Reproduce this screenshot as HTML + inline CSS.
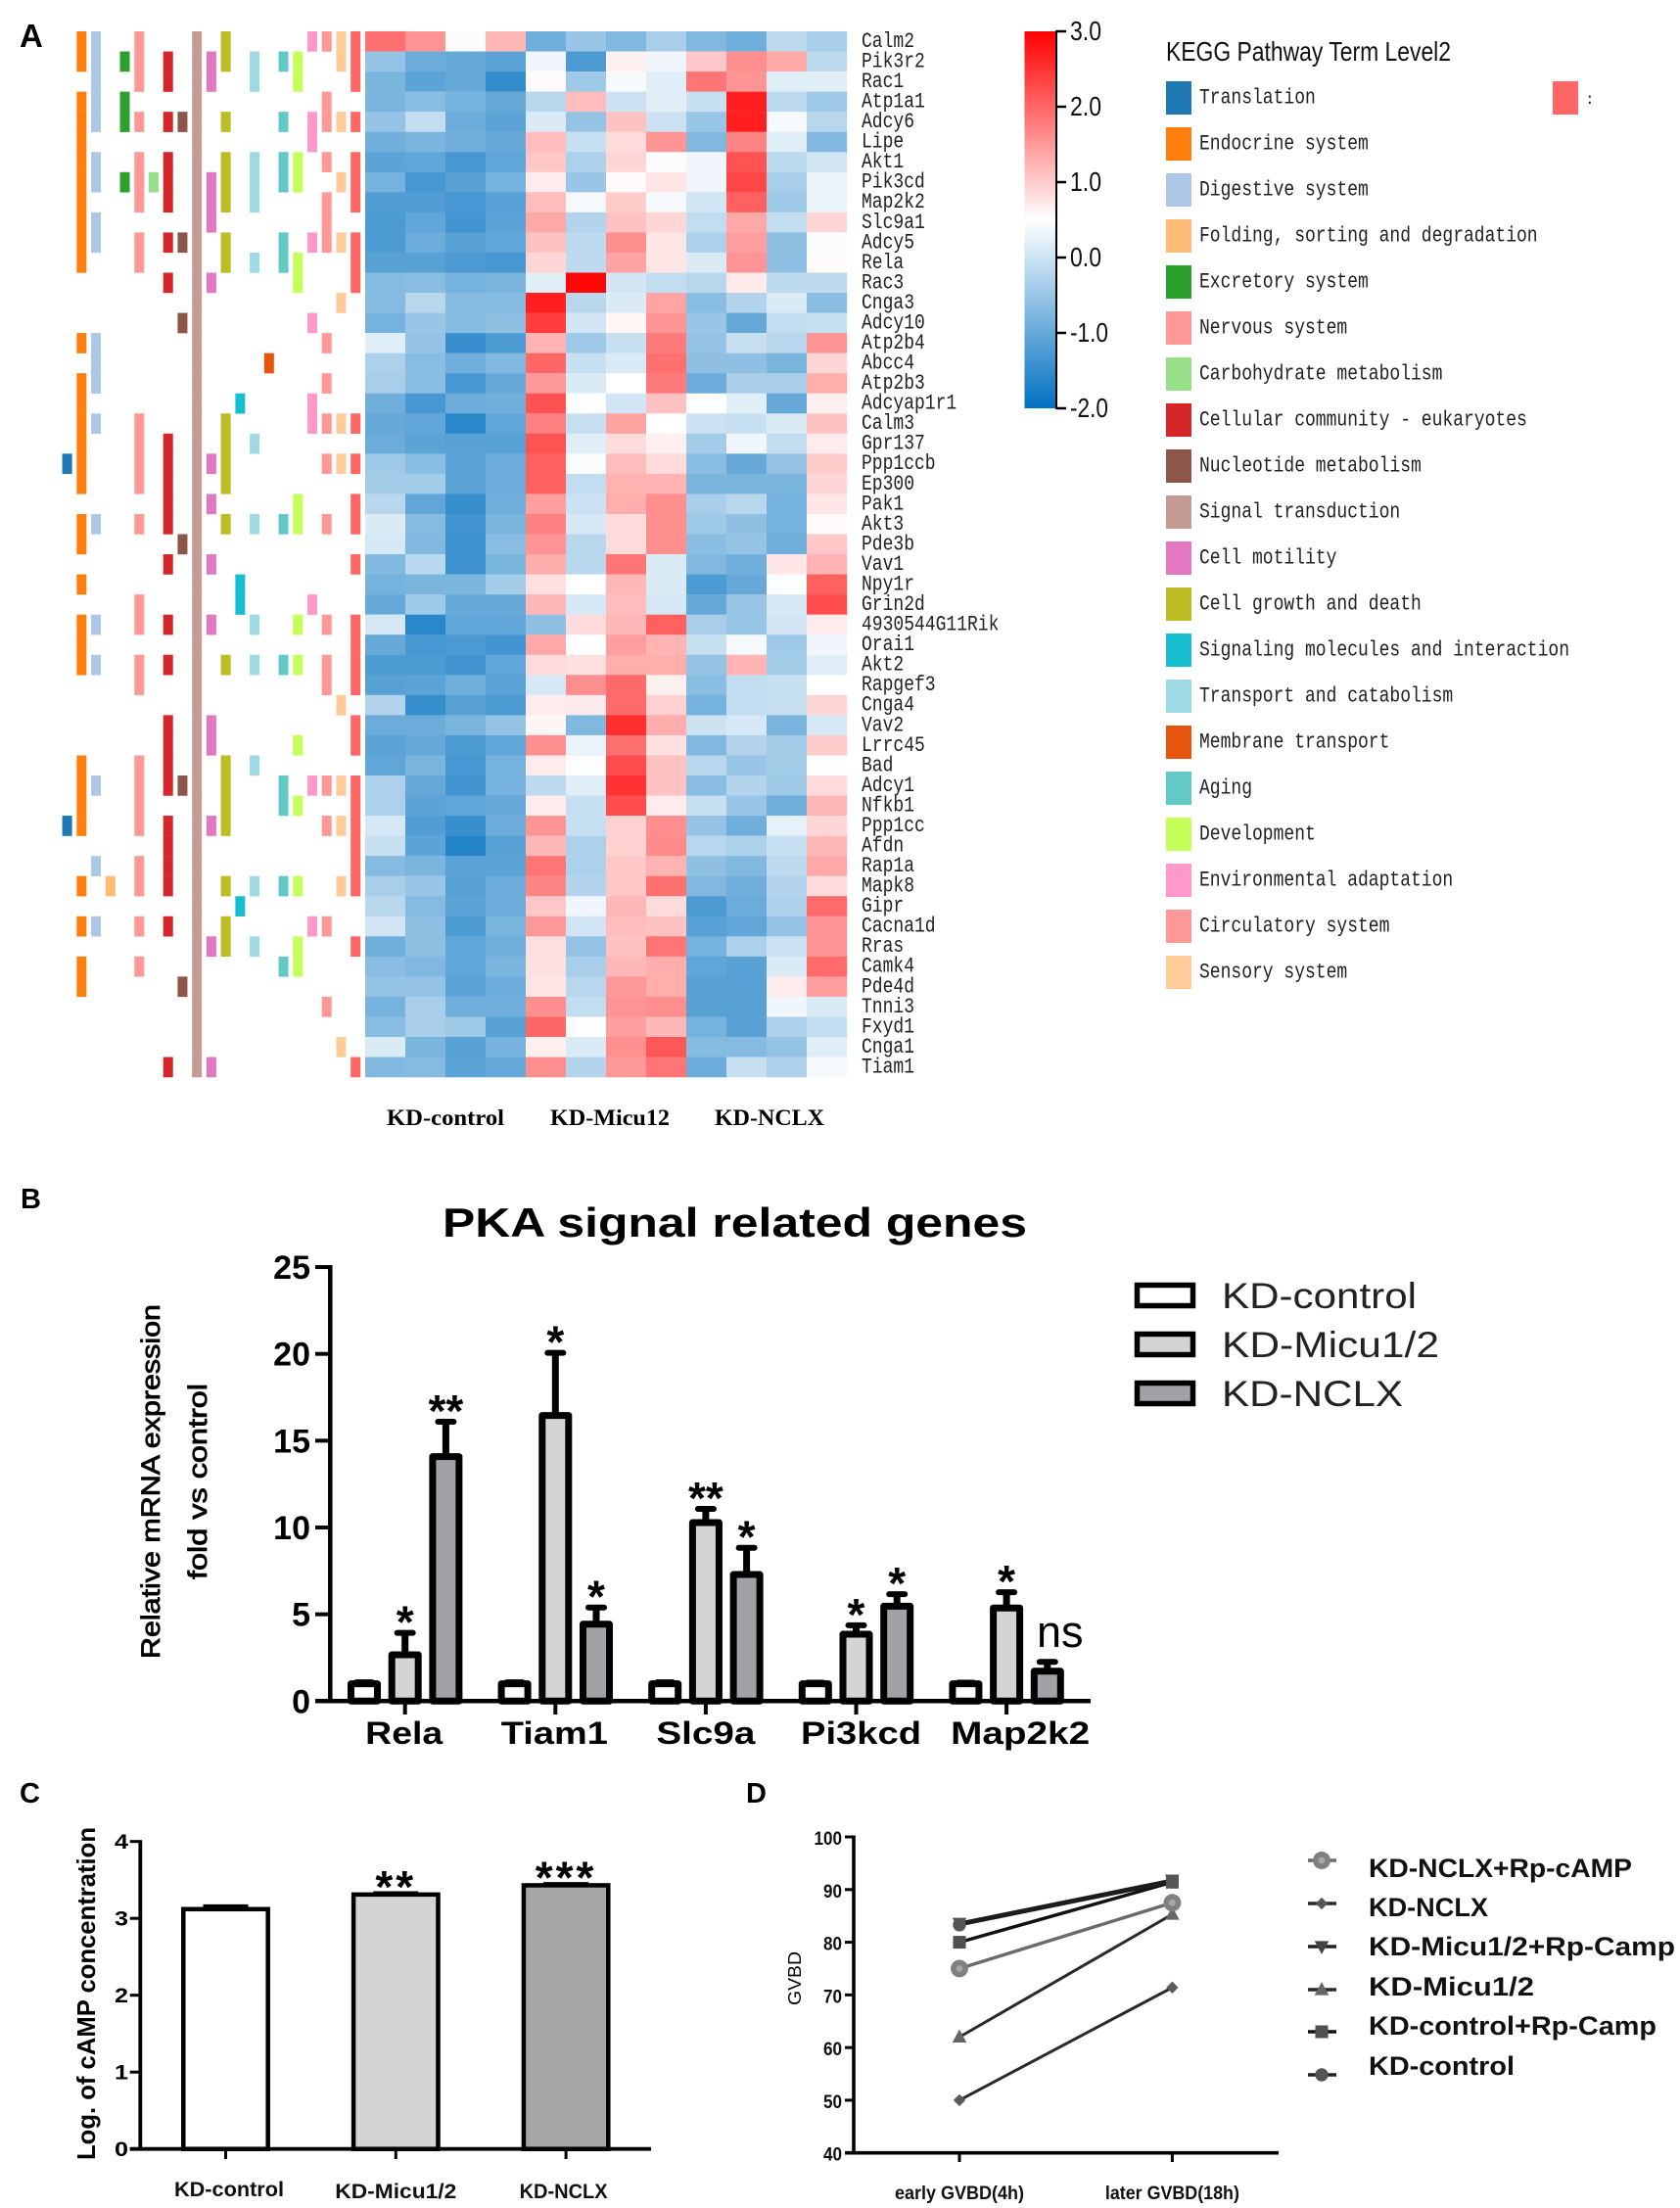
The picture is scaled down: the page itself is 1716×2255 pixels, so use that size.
<!DOCTYPE html>
<html lang="en">
<head>
<meta charset="utf-8">
<title>PKA signal figure</title>
<style>
html,body{margin:0;padding:0;background:#fff;}
svg{display:block;}
text{font-family:"Liberation Sans",sans-serif;}
.mono{font-family:"Liberation Mono",monospace;fill:#222;}
.serif{font-family:"Liberation Serif",serif;}
</style>
</head>
<body>
<svg id="figure" xmlns="http://www.w3.org/2000/svg" width="1716" height="2255" viewBox="0 0 1716 2255">
  <defs>
    <linearGradient id="cbar" x1="0" y1="0" x2="0" y2="1">
      <stop offset="0" stop-color="#ff0000"/>
      <stop offset="0.5" stop-color="#ffffff"/>
      <stop offset="1" stop-color="#0070c0"/>
    </linearGradient>
  </defs>
  <rect width="1716" height="2255" fill="#fff"/>
  <text x="20" y="48" font-size="33" font-weight="700">A</text>
  <text x="21" y="1234" font-size="29" font-weight="700">B</text>
  <text x="20" y="1841" font-size="29" font-weight="700">C</text>
  <text x="762" y="1841" font-size="29" font-weight="700">D</text>

  <g id="annot"></g>
  <g id="heat"></g>
  <g id="genes"></g>
  <g>
    <text class="serif" x="395" y="1149" font-size="23" font-weight="700" textLength="120" lengthAdjust="spacingAndGlyphs">KD-control</text>
    <text class="serif" x="562" y="1149" font-size="23" font-weight="700" textLength="122" lengthAdjust="spacingAndGlyphs">KD-Micu12</text>
    <text class="serif" x="730" y="1149" font-size="23" font-weight="700" textLength="112" lengthAdjust="spacingAndGlyphs">KD-NCLX</text>
  </g>
  <g id="colorbar">
    <rect x="1046.5" y="32" width="32.5" height="385" fill="url(#cbar)"/>
    <line x1="1079" y1="31" x2="1079" y2="418" stroke="#000" stroke-width="2"/>
  </g>
  <text x="1191" y="62" font-size="28" fill="#111" textLength="291" lengthAdjust="spacingAndGlyphs">KEGG Pathway Term Level2</text>
  <g id="pathwayLegend"></g>

  <text x="452" y="1263" font-size="42" font-weight="700" textLength="597" lengthAdjust="spacingAndGlyphs">PKA signal related genes</text>
  <text transform="translate(163,1694) rotate(-90)" font-size="27" stroke="#000" stroke-width="0.8" textLength="362" lengthAdjust="spacingAndGlyphs">Relative mRNA expression</text>
  <text transform="translate(211,1613) rotate(-90)" font-size="27" stroke="#000" stroke-width="0.8" textLength="200" lengthAdjust="spacingAndGlyphs">fold vs control</text>
  <g id="chartB"></g>
  <g id="legendB"></g>

  <text transform="translate(97,2206) rotate(-90)" font-size="26" font-weight="700" textLength="340" lengthAdjust="spacingAndGlyphs">Log. of cAMP concentration</text>
  <g id="chartC"></g>

  <text transform="translate(818,2048) rotate(-90)" font-size="18" textLength="55" lengthAdjust="spacingAndGlyphs">GVBD</text>
  <g id="chartD"></g>
  <g id="legendD"></g>
</svg>

<script>
/* ---------- Panel A data ---------- */
var geneNames = ["Calm2","Pik3r2","Rac1","Atp1a1","Adcy6","Lipe","Akt1","Pik3cd","Map2k2","Slc9a1","Adcy5","Rela","Rac3","Cnga3","Adcy10","Atp2b4","Abcc4","Atp2b3","Adcyap1r1","Calm3","Gpr137","Ppp1ccb","Ep300","Pak1","Akt3","Pde3b","Vav1","Npy1r","Grin2d","4930544G11Rik","Orai1","Akt2","Rapgef3","Cnga4","Vav2","Lrrc45","Bad","Adcy1","Nfkb1","Ppp1cc","Afdn","Rap1a","Mapk8","Gipr","Cacna1d","Rras","Camk4","Pde4d","Tnni3","Fxyd1","Cnga1","Tiam1"];
var heatValues = [
[1.9,1.55,0.45,1.2,-0.9,-0.5,-0.75,-0.35,-0.75,-0.9,-0.15,-0.35],
[-0.55,-0.95,-1.0,-1.1,0.35,-1.25,0.65,0.35,1.05,1.6,1.35,-0.15],
[-0.8,-1.1,-1.0,-1.5,0.55,-0.45,0.42,0.2,1.85,1.55,0.2,0.2],
[-0.8,-0.65,-0.85,-1.0,-0.2,1.15,0.0,0.2,-0.05,2.7,-0.15,-0.45],
[-0.55,-0.1,-0.95,-1.1,0.15,-0.55,1.1,0.0,-0.5,2.7,0.4,-0.2],
[-0.9,-0.8,-0.9,-1.0,1.15,-0.05,0.85,1.55,-0.75,1.7,0.2,-0.75],
[-1.1,-1.05,-1.3,-1.05,1.05,-0.3,0.9,0.45,0.35,2.2,-0.15,0.05],
[-0.85,-1.3,-1.15,-0.85,0.7,-0.5,0.55,0.75,0.35,2.3,-0.35,0.3],
[-1.2,-1.2,-1.3,-1.15,1.15,0.4,1.0,0.4,0.05,2.05,-0.45,0.3],
[-1.25,-1.05,-1.35,-1.1,1.35,-0.25,1.1,0.9,-0.1,1.35,-0.1,0.9],
[-1.25,-0.95,-1.15,-1.05,1.1,-0.15,1.6,0.75,-0.3,1.45,-0.6,0.45],
[-1.15,-1.15,-1.25,-1.3,0.9,-0.15,1.4,0.75,0.15,1.55,-0.6,0.55],
[-0.7,-0.65,-0.85,-0.8,0.2,2.95,0.05,-0.1,-0.2,0.7,-0.15,-0.15],
[-0.7,-0.2,-0.7,-0.7,2.7,-0.2,0.15,1.4,-0.65,-0.25,0.15,-0.65],
[-0.85,-0.5,-0.7,-0.6,2.4,0.05,0.6,1.55,-0.5,-1.0,-0.1,-0.05],
[0.2,-0.55,-1.45,-1.25,1.25,-0.45,-0.05,1.8,-0.55,-0.05,-0.2,1.55],
[-0.3,-0.65,-0.9,-0.75,2.0,-0.05,0.15,1.9,-0.6,-0.6,-0.8,0.9],
[-0.35,-0.65,-1.3,-1.0,1.5,0.15,0.5,1.8,-0.95,-0.35,-0.35,1.3],
[-0.9,-1.3,-0.95,-0.9,2.2,0.5,0.05,1.1,0.47,0.2,-1.0,0.65],
[-1.0,-1.05,-1.6,-1.05,1.75,-0.05,1.4,0.5,0.0,-0.05,0.15,1.1],
[-0.95,-1.1,-1.15,-1.15,2.2,0.2,0.85,0.65,-0.4,0.35,-0.1,0.7],
[-0.45,-0.65,-1.1,-0.95,2.05,0.45,1.15,0.85,-0.65,-1.0,-0.55,1.0],
[-0.4,-0.4,-1.1,-0.95,2.05,-0.1,1.25,1.25,-0.8,-0.8,-0.8,0.9],
[-0.2,-1.05,-1.45,-0.9,1.45,0.0,1.3,1.6,-0.35,-0.2,-0.85,0.75],
[0.15,-0.7,-1.35,-0.8,1.75,0.1,0.85,1.6,-0.45,-0.6,-0.85,0.55],
[0.1,-0.75,-1.4,-0.65,1.55,-0.2,0.85,1.6,-0.65,-0.55,-0.9,1.05],
[-0.75,-0.2,-1.4,-0.8,1.3,-0.2,1.85,0.15,-0.75,-0.9,0.75,1.25],
[-0.85,-0.8,-0.8,-0.4,0.8,0.5,1.2,0.15,-1.25,-1.0,0.47,2.05],
[-1.0,-0.45,-1.0,-1.0,1.2,0.1,1.15,0.1,-1.0,-0.5,0.1,2.25],
[0.1,-1.6,-1.05,-1.05,-0.6,0.85,1.2,2.05,-0.35,-0.5,0.05,0.7],
[-1.0,-1.3,-1.25,-1.35,1.35,0.5,1.45,1.25,-0.05,0.4,-0.45,0.35],
[-1.25,-1.25,-1.35,-1.05,0.85,0.8,1.3,1.3,-0.55,1.25,-0.4,0.2],
[-1.15,-1.1,-0.9,-1.1,0.1,1.6,1.95,0.65,-0.65,-0.1,-0.05,0.5],
[-0.25,-1.45,-1.15,-1.25,0.7,0.7,1.95,0.95,-0.85,-0.1,-0.05,0.9],
[-0.95,-0.95,-0.8,-0.55,0.6,-0.75,2.55,1.3,0.0,0.1,-0.8,0.1],
[-1.1,-1.0,-1.25,-1.05,1.6,0.3,1.9,0.8,-0.75,-0.25,-0.4,1.0],
[-1.05,-0.8,-1.3,-0.85,0.7,0.47,2.25,1.1,-0.2,-0.5,-0.4,0.5],
[-0.3,-1.0,-1.35,-0.85,-0.15,0.2,2.5,1.1,-0.65,-0.25,-0.45,0.85],
[-0.3,-1.1,-1.05,-1.0,0.7,-0.05,2.25,0.7,-0.05,-0.5,-0.9,1.2],
[0.1,-1.2,-1.45,-0.95,1.55,-0.05,0.95,1.6,-0.55,-0.9,0.25,0.9],
[-0.05,-1.1,-1.65,-1.15,1.2,-0.3,0.95,1.65,-0.2,-0.3,-0.05,1.2],
[-0.7,-0.8,-1.1,-1.1,1.85,-0.3,1.05,1.25,-0.6,-0.75,-0.15,1.35],
[-0.35,-0.5,-1.15,-0.95,1.7,-0.25,1.05,1.9,-0.75,-0.9,-0.25,0.85],
[-0.2,-0.7,-1.1,-0.95,1.05,0.35,1.2,0.85,-1.25,-0.95,-0.3,1.95],
[0.05,-0.6,-1.25,-0.8,1.5,0.05,1.15,1.1,-1.15,-1.05,-0.55,1.55],
[-0.9,-0.6,-1.05,-0.9,0.8,-0.55,1.1,1.85,-0.85,-0.3,0.0,1.55],
[-0.65,-0.75,-1.05,-0.8,0.8,-0.35,1.2,1.3,-1.05,-1.15,0.15,1.95],
[-0.55,-0.55,-1.1,-0.95,0.75,-0.2,1.5,1.3,-1.15,-1.15,0.7,1.45],
[-0.85,-0.35,-0.9,-0.9,1.6,-0.1,1.55,1.6,-1.15,-1.15,0.35,0.15],
[-0.65,-0.35,-0.45,-1.15,2.0,0.47,1.45,1.2,-0.85,-1.15,-0.3,-0.1],
[0.15,-0.8,-1.15,-0.85,0.65,0.15,1.6,2.15,-0.7,-0.7,-0.55,0.2],
[-0.75,-0.7,-1.1,-1.0,1.6,-0.25,1.5,1.85,-0.95,-0.05,-0.3,0.4]
];
var colorbarTicks = [3, 2, 1, 0, -1, -2];
var colorbarLabels = ["3.0", "2.0", "1.0", "0.0", "-1.0", "-2.0"];
var pathwayNames = ["Translation","Endocrine system","Digestive system","Folding, sorting and degradation","Excretory system","Nervous system","Carbohydrate metabolism","Cellular community - eukaryotes","Nucleotide metabolism","Signal transduction","Cell motility","Cell growth and death","Signaling molecules and interaction","Transport and catabolism","Membrane transport","Aging","Development","Environmental adaptation","Circulatory system","Sensory system"];
var pathwayColors = ["#1f77b4","#ff7f0e","#aec7e8","#ffbb78","#2ca02c","#ff9896","#98df8a","#d62728","#8c564b","#c49c94","#e377c2","#bcbd22","#17becf","#9edae5","#e6550d","#63c9c4","#c7ff5a","#ff99cc","#ff9896","#ffcc99","#ff6666"];
var pathwayRows = [
[21,39],
[0,1,3,4,5,6,7,8,9,10,11,15,17,18,19,20,21,22,24,25,27,29,30,31,36,37,38,39,42,44,46,47],
[0,1,2,3,4,6,7,9,10,15,16,17,19,24,29,31,37,41,44],
[42],
[1,3,4,7],
[0,1,2,4,6,7,8,10,11,19,20,21,22,24,28,29,31,32,36,37,38,39,41,42,44,46],
[7],
[1,2,4,6,7,8,10,12,20,21,22,23,24,26,29,31,34,35,36,37,39,40,41,42,44,51],
[4,10,14,25,37,47],
[0,1,2,3,4,5,6,7,8,9,10,11,12,13,14,15,16,17,18,19,20,21,22,23,24,25,26,27,28,29,30,31,32,33,34,35,36,37,38,39,40,41,42,43,44,45,46,47,48,49,50,51],
[1,2,7,8,9,12,21,23,26,29,34,35,39,45,51],
[0,1,4,6,7,8,10,11,19,20,21,22,24,31,36,37,38,39,42,44,45],
[18,27,28,43],
[1,2,6,7,8,11,20,24,29,31,36,42,45],
[16],
[1,4,6,7,10,11,24,31,37,38,42,46],
[1,2,6,7,11,12,23,24,29,31,35,38,42,45,46],
[0,4,5,10,14,18,19,28,37,44],
[0,3,4,6,8,9,10,15,17,19,21,24,29,31,32,37,39,44,48],
[0,1,4,7,10,13,19,21,33,37,39,42,50],
[0,1,2,4,6,7,8,10,11,12,19,21,23,24,26,29,30,31,32,34,35,37,38,39,40,41,42,45,51]
];

/* ---------- Panel B data ---------- */
var barGenes = ["Rela","Tiam1","Slc9a","Pi3kcd","Map2k2"];
var barTicks = [0,5,10,15,20,25];
var barControl = [1,1,1,1,1];
var barMicu = [2.67,16.45,10.28,3.85,5.36];
var barNclx = [14.08,4.43,7.29,5.47,1.72];
var errControl = [1.08,1.08,1.08,1.06,1.06];
var errMicu = [3.93,20.06,11.07,4.37,6.27];
var errNclx = [16.09,5.39,8.83,6.16,2.26];
var sigMicu = ["*","*","**","*","*"];
var sigNclx = ["**","*","*","*","ns"];
var barSeriesNames = ["KD-control","KD-Micu1/2","KD-NCLX"];

/* ---------- Panel C data ---------- */
var campGroups = ["KD-control","KD-Micu1/2","KD-NCLX"];
var campTicks = [0,1,2,3,4];
var campValues = [3.12,3.31,3.43];
var campErrors = [3.16,3.33,3.45];
var campSig = ["","**","***"];

/* ---------- Panel D data ---------- */
var gvbdTimes = ["early GVBD(4h)","later GVBD(18h)"];
var gvbdTicks = [40,50,60,70,80,90,100];
var gvbdNclxRp = [75,87.5];
var gvbdNclx = [50,71.4];
var gvbdMicuRp = [83.6,91.8];
var gvbdMicu = [62,85.3];
var gvbdControlRp = [80,91.4];
var gvbdControl = [83.3,91.5];

/* ---------- helpers ---------- */
var NS = "http://www.w3.org/2000/svg";
function mk(parent, tag, attrs) {
  var el = document.createElementNS(NS, tag);
  for (var k in attrs) { el.setAttribute(k, attrs[k]); }
  parent.appendChild(el);
  return el;
}
function mkText(parent, str, attrs) {
  var el = mk(parent, "text", attrs);
  el.textContent = str;
  return el;
}
function mix(a, b, t) { return Math.round(a + (b - a) * t); }
function heatColor(v) {
  var c = Math.max(-2, Math.min(3, v));
  if (c >= 0.5) {
    var t = (c - 0.5) / 2.5;
    return "rgb(255," + mix(255, 0, t) + "," + mix(255, 0, t) + ")";
  }
  var u = (0.5 - c) / 2.5;
  return "rgb(" + mix(255, 0, u) + "," + mix(255, 112, u) + "," + mix(255, 192, u) + ")";
}
function slug(s) { return String(s).toLowerCase().replace(/[^a-z0-9]+/g, "-").replace(/^-|-$/g, ""); }

/* ---------- Panel A ---------- */
var heatX = function (c) { return 373 + 41 * c; };
var heatY = function (r) { return 32 + 20.54 * r; };
var annotX = function (c) { return 63.6 + 14.73 * c; };
var cbarY = function (v) { return 263 - 77 * v; };
var MONO_ADVANCE = 10.8;

var heatG = document.getElementById("heat");
heatValues.forEach(function (row, r) {
  row.forEach(function (v, c) {
    var cell = mk(heatG, "rect", { x: heatX(c), y: heatY(r), width: 41.2, height: 20.74, fill: heatColor(v) });
    
    
  });
});

var genesG = document.getElementById("genes");
geneNames.forEach(function (g, r) {
  var t = mkText(genesG, g, { "class": "mono", x: 880, y: heatY(r) + 15.9, "font-size": 22, textLength: g.length * MONO_ADVANCE, lengthAdjust: "spacingAndGlyphs" });
  
  
});

var annotG = document.getElementById("annot");
pathwayRows.forEach(function (rows, c) {
  rows.forEach(function (r) {
    var a = mk(annotG, "rect", { x: annotX(c), y: heatY(r), width: 10, height: 20.74, fill: pathwayColors[c] });
    
    
  });
});

var cbarG = document.getElementById("colorbar");
colorbarTicks.forEach(function (v, i) {
  var tk = mk(cbarG, "line", { x1: 1079, x2: 1089, y1: cbarY(v), y2: cbarY(v), stroke: "#000", "stroke-width": 2.5 });
  
  
  var lab = colorbarLabels[i];
  var tl = mkText(cbarG, lab, { x: 1093, y: cbarY(v) + 9, "font-size": 28, fill: "#111", textLength: lab.length === 3 ? 32 : 39, lengthAdjust: "spacingAndGlyphs" });
  
  
});

var plegG = document.getElementById("pathwayLegend");
pathwayNames.forEach(function (n, i) {
  var top = 83.5 + 47 * i;
  var sw = mk(plegG, "rect", { x: 1191, y: top - 0.5, width: 26, height: 34, fill: pathwayColors[i] });
  
  
  var t = mkText(plegG, n, { "class": "mono", x: 1225, y: top + 21.8, "font-size": 22, textLength: n.length * MONO_ADVANCE, lengthAdjust: "spacingAndGlyphs" });
  
  
});
var extraSw = mk(plegG, "rect", { x: 1577, y: 83, width: 26, height: 34, fill: pathwayColors[20] });
extraSw.setAttribute("x", "1586");


var extraT = mkText(plegG, ":", { "class": "mono", x: 1619, y: 106, "font-size": 16 });



/* ---------- Panel B ---------- */
var bY = function (v) { return 1737.3 - 17.73 * v; };
var bX = function (g) { return 413.7 + 153.6 * g; };
var BAR_OFFSET = 41.7;
var bG = document.getElementById("chartB");
var barFills = ["#ffffff", "#d4d4d4", "#a2a2a6"];
var barXLabelWidths = [79, 109, 101, 123, 142];
var barXLabelNudge = [-1, -1, 0, 5, 14];

function drawBar(group, value, err, sig, series, offset) {
  var cx = bX(group) + offset;
  var stem = mk(bG, "line", { x1: cx, x2: cx, y1: bY(value), y2: bY(err), stroke: "#000", "stroke-width": 7 });
  
  
  var cap = mk(bG, "line", { x1: cx - 8, x2: cx + 8, y1: bY(err), y2: bY(err), stroke: "#000", "stroke-width": 6, "stroke-linecap": "round" });
  
  
  var bar = mk(bG, "rect", { x: cx - 13.5, y: bY(value), width: 27, height: bY(0) - bY(value), fill: barFills[series], stroke: "#000", "stroke-width": 7, "stroke-linejoin": "round" });
  
  
  if (sig === "ns") {
    var ns = mkText(bG, sig, { x: cx + 13, y: bY(err) - 15, "font-size": 45, "text-anchor": "middle" });
    
    
  } else if (sig) {
    var st = mkText(bG, sig, { x: cx, y: bY(err) + 5, "font-size": 46, "font-weight": 700, "text-anchor": "middle" });
    
    
  }
}
barGenes.forEach(function (g, i) {
  drawBar(i, barControl[i], errControl[i], "", 0, -BAR_OFFSET);
  drawBar(i, barMicu[i], errMicu[i], sigMicu[i], 1, 0);
  drawBar(i, barNclx[i], errNclx[i], sigNclx[i], 2, BAR_OFFSET);
  var tk = mk(bG, "line", { x1: bX(i), x2: bX(i), y1: bY(0), y2: 1751, stroke: "#000", "stroke-width": 4 });
  
  
  var t = mkText(bG, g, { x: bX(i) + barXLabelNudge[i], y: 1781, "font-size": 32, "font-weight": 700, "text-anchor": "middle", textLength: barXLabelWidths[i], lengthAdjust: "spacingAndGlyphs" });
  
  
});
var bAxisY = mk(bG, "line", { x1: 337.3, x2: 337.3, y1: bY(25) - 2, y2: bY(0), stroke: "#000", "stroke-width": 4.5 });


var bAxisX = mk(bG, "line", { x1: 322, x2: 1114, y1: bY(0), y2: bY(0), stroke: "#000", "stroke-width": 4.5 });


barTicks.forEach(function (v) {
  var tk = mk(bG, "line", { x1: 322, x2: 337, y1: bY(v), y2: bY(v), stroke: "#000", "stroke-width": 4 });
  
  
  var t = mkText(bG, String(v), { x: 317, y: bY(v) + 12, "font-size": 34, "font-weight": 700, "text-anchor": "end" });
  
  
});

var legB = document.getElementById("legendB");
var legBWidths = [199, 222, 185];
barSeriesNames.forEach(function (n, i) {
  var cy = 1323 + 50 * i;
  var sw = mk(legB, "rect", { x: 1161.5, y: cy - 10.5, width: 57, height: 21, fill: barFills[i], stroke: "#000", "stroke-width": 5.5 });
  
  
  var t = mkText(legB, n, { x: 1248, y: cy + 13, "font-size": 37, fill: "#222", textLength: legBWidths[i], lengthAdjust: "spacingAndGlyphs" });
  
  
});

/* ---------- Panel C ---------- */
var cY = function (v) { return 2194.7 - 78.5 * v; };
var cX = function (i) { return 230.5 + 173.8 * i; };
var cG = document.getElementById("chartC");
var cFills = ["#ffffff", "#d4d4d4", "#a5a5a8"];
var cLabelWidths = [112, 124, 90];
var cLabelNudge = [3.5, 0, -2.5];
var cLabelBase = [2243, 2245, 2245];
campGroups.forEach(function (g, i) {
  var cx = cX(i);
  var cap = mk(cG, "line", { x1: cx - 23, x2: cx + 23, y1: cY(campErrors[i]), y2: cY(campErrors[i]), stroke: "#000", "stroke-width": 3.5 });
  
  
  var b = mk(cG, "rect", { x: cx - 43.2, y: cY(campValues[i]), width: 86.4, height: cY(0) - cY(campValues[i]), fill: cFills[i], stroke: "#000", "stroke-width": 4.5 });
  
  
  var tk = mk(cG, "line", { x1: cx, x2: cx, y1: cY(0), y2: 2205, stroke: "#000", "stroke-width": 3 });
  
  
  var t = mkText(cG, g, { x: cx + cLabelNudge[i], y: cLabelBase[i], "font-size": 21, "font-weight": 700, fill: "#111", "text-anchor": "middle", textLength: cLabelWidths[i], lengthAdjust: "spacingAndGlyphs" });
  
  
  if (campSig[i]) {
    var s = mkText(cG, campSig[i], { x: cx, y: cY(campValues[i]) + 8, "font-size": 46, "font-weight": 700, "text-anchor": "middle", "letter-spacing": 3 });
    
    
  }
});
var cAxisY = mk(cG, "line", { x1: 143.3, x2: 143.3, y1: cY(4) - 1.5, y2: cY(0), stroke: "#000", "stroke-width": 3.8 });


var cAxisX = mk(cG, "line", { x1: 132.7, x2: 665, y1: cY(0), y2: cY(0), stroke: "#000", "stroke-width": 3.8 });


campTicks.forEach(function (v) {
  var tk = mk(cG, "line", { x1: 132.7, x2: 143, y1: cY(v), y2: cY(v), stroke: "#000", "stroke-width": 3 });
  
  
  var t = mkText(cG, String(v), { x: 131, y: cY(v) + 7.5, "font-size": 21, "font-weight": 700, "text-anchor": "end", textLength: 14, lengthAdjust: "spacingAndGlyphs" });
  
  
});

/* ---------- Panel D ---------- */
var dY = function (v) { return 2198.7 - 5.378 * (v - 40); };
var dX = function (i) { return 980 + 217.4 * i; };
var dG = document.getElementById("chartD");
var legD = document.getElementById("legendD");

function marker(parent, kind, x, y, fill, scale) {
  var k = scale || 1.12, el;
  if (kind === "bigcircle") {
    el = mk(parent, "circle", { cx: x, cy: y, r: 8 * k, fill: "#808080" });
    var inner = mk(parent, "circle", { cx: x, cy: y, r: 3 * k, fill: "#a8a8a8" });
    
    
  } else if (kind === "circle") {
    el = mk(parent, "circle", { cx: x, cy: y, r: 6 * k, fill: fill });
  } else if (kind === "square") {
    el = mk(parent, "rect", { x: x - 5.8 * k, y: y - 5.8 * k, width: 11.6 * k, height: 11.6 * k, fill: fill });
  } else if (kind === "up") {
    el = mk(parent, "polygon", { points: (x - 6.5 * k) + "," + (y + 5 * k) + " " + (x + 6.5 * k) + "," + (y + 5 * k) + " " + x + "," + (y - 7 * k), fill: fill });
  } else if (kind === "down") {
    el = mk(parent, "polygon", { points: (x - 6.5 * k) + "," + (y - 5 * k) + " " + (x + 6.5 * k) + "," + (y - 5 * k) + " " + x + "," + (y + 7 * k), fill: fill });
  } else {
    el = mk(parent, "polygon", { points: x + "," + (y - 5.5 * k) + " " + (x + 5.5 * k) + "," + y + " " + x + "," + (y + 5.5 * k) + " " + (x - 5.5 * k) + "," + y, fill: fill });
  }
  
  
}

function drawSeries(values, name, kind, lineColor, fill, width) {
  var ln = mk(dG, "line", { x1: dX(0), y1: dY(values[0]), x2: dX(1), y2: dY(values[1]), stroke: lineColor, "stroke-width": width });
  
  
  values.forEach(function (v, i) { marker(dG, kind, dX(i), dY(v), fill); });
}
drawSeries(gvbdNclx, "kd-nclx", "diamond", "#2a2a2a", "#5a5a5a", 3);
drawSeries(gvbdMicu, "kd-micu", "up", "#2a2a2a", "#666666", 3);
drawSeries(gvbdNclxRp, "kd-nclx-rp-camp", "bigcircle", "#6a6a6a", "#808080", 3.4);
drawSeries(gvbdMicuRp, "kd-micu-rp-camp", "down", "#1c1c1c", "#555555", 3.4);
drawSeries(gvbdControlRp, "kd-control-rp-camp", "square", "#111111", "#505050", 3.4);
drawSeries(gvbdControl, "kd-control", "circle", "#1c1c1c", "#555555", 3.4);

var dAxisY = mk(dG, "line", { x1: 872, x2: 872, y1: dY(100) - 1.5, y2: dY(40), stroke: "#000", "stroke-width": 3.6 });


var dAxisX = mk(dG, "line", { x1: 863, x2: 1306, y1: dY(40), y2: dY(40), stroke: "#000", "stroke-width": 3.6 });


gvbdTicks.forEach(function (v) {
  var s = String(v);
  var tk = mk(dG, "line", { x1: 863, x2: 872, y1: dY(v), y2: dY(v), stroke: "#000", "stroke-width": 3 });
  
  
  var t = mkText(dG, s, { x: 860, y: dY(v) + 8, "font-size": 19, "font-weight": 700, fill: "#111", "text-anchor": "end", textLength: s.length * 9.5, lengthAdjust: "spacingAndGlyphs" });
  
  
});
var dLabelWidths = [132, 137];
gvbdTimes.forEach(function (n, i) {
  var tk = mk(dG, "line", { x1: dX(i), x2: dX(i), y1: dY(40), y2: 2208, stroke: "#000", "stroke-width": 3 });
  
  
  var t = mkText(dG, n, { x: dX(i), y: 2246, "font-size": 19, "font-weight": 700, fill: "#111", "text-anchor": "middle", textLength: dLabelWidths[i], lengthAdjust: "spacingAndGlyphs" });
  
  
});

var legendDNames = ["KD-NCLX+Rp-cAMP","KD-NCLX","KD-Micu1/2+Rp-Camp","KD-Micu1/2","KD-control+Rp-Camp","KD-control"];
var legendDKinds = ["bigcircle","diamond","down","up","square","circle"];
var legendDWidths = [269,122,313,169,294,149];
var legendDColors = ["#6a6a6a","#2a2a2a","#222222","#2a2a2a","#111111","#222222"];
var legendDFills = ["#808080","#555555","#444444","#666666","#505050","#555555"];
var legendDMarkY = [1900,1944,1988,2032,2075,2119];
var legendDBase = [1917,1957,1997,2038,2078,2119];
legendDNames.forEach(function (n, i) {
  var ln = mk(legD, "line", { x1: 1336, x2: 1365, y1: legendDMarkY[i], y2: legendDMarkY[i], stroke: legendDColors[i], "stroke-width": 3.4 });
  
  
  marker(legD, legendDKinds[i], 1350, legendDMarkY[i], legendDFills[i]);
  var t = mkText(legD, n, { x: 1398, y: legendDBase[i], "font-size": 27, "font-weight": 700, fill: "#111", textLength: legendDWidths[i], lengthAdjust: "spacingAndGlyphs" });
  
  
});
</script>
</body>
</html>
